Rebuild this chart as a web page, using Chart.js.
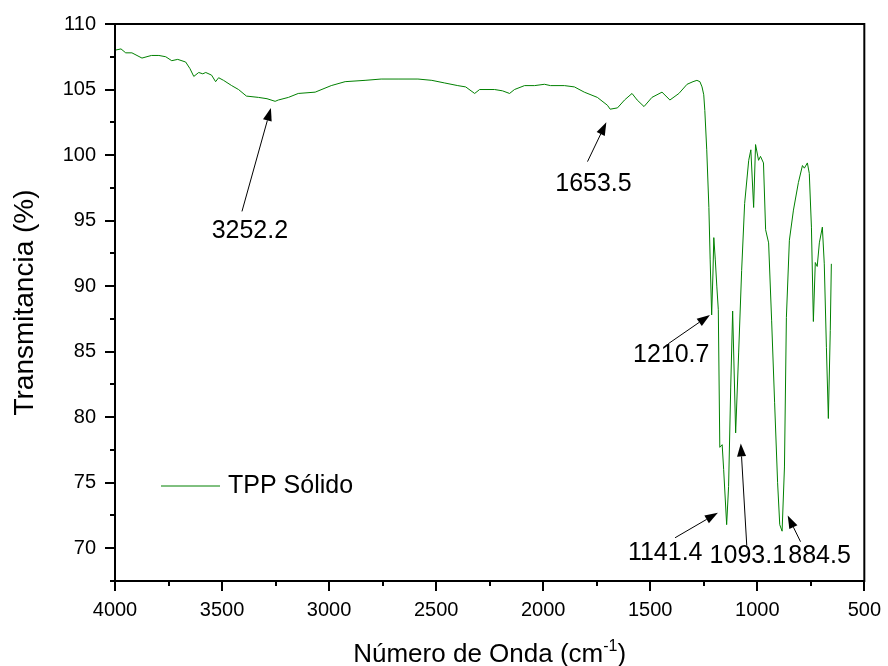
<!DOCTYPE html>
<html>
<head>
<meta charset="utf-8">
<script src="https://cdn.jsdelivr.net/npm/chart.js@4.4.1/dist/chart.umd.min.js"></script>
<style>
    body { margin: 0; background: #fff; }
</style>
</head>
<body>
<canvas id="chartFTIR" width="888" height="666"></canvas>
<script>
//* DATOS
const numeroOnda = [
    4000, 3972, 3950, 3921, 3874, 3830, 3795, 3763, 3735, 3707,
    3670, 3650, 3632, 3609, 3590, 3576, 3549, 3530, 3516, 3493,
    3455, 3423, 3386, 3330, 3290, 3252, 3237, 3190, 3144, 3065,
    2990, 2925, 2832, 2757, 2678, 2585, 2520, 2460, 2399, 2362,
    2320, 2297, 2227, 2190, 2157, 2134, 2087, 2040, 1994, 1966,
    1901, 1854, 1808, 1747, 1700, 1687, 1653, 1620, 1585, 1561,
    1529, 1492, 1445, 1408, 1366, 1328, 1300, 1282, 1268, 1258,
    1250, 1245, 1236, 1226, 1220, 1213, 1207, 1203, 1196, 1189,
    1182, 1175, 1164, 1157, 1143, 1134, 1124, 1115, 1101, 1087,
    1073, 1059, 1040, 1030, 1017, 1008, 994, 985, 971, 961,
    947, 933, 919, 905, 895, 884, 873, 864, 850, 831,
    808, 789, 780, 766, 757, 747, 738, 729, 720, 710,
    696, 687, 677, 668, 659, 654
];
const transmitancia = [
    108.0, 108.1, 107.8, 107.8, 107.4, 107.6, 107.6, 107.5, 107.2, 107.3,
    107.1, 106.6, 106.0, 106.3, 106.2, 106.3, 106.1, 105.6, 105.9, 105.7,
    105.3, 105.0, 104.5, 104.4, 104.3, 104.1, 104.2, 104.4, 104.7, 104.8,
    105.3, 105.6, 105.7, 105.8, 105.8, 105.8, 105.7, 105.5, 105.3, 105.2,
    104.7, 105.0, 105.0, 104.9, 104.7, 105.0, 105.3, 105.3, 105.4, 105.3,
    105.3, 105.2, 104.8, 104.4, 103.8, 103.5, 103.6, 104.2, 104.7, 104.2,
    103.7, 104.4, 104.8, 104.2, 104.7, 105.4, 105.6, 105.7, 105.6, 105.2,
    104.6, 103.4, 100.4, 96.0, 92.0, 87.8, 91.0, 93.7, 92.0, 90.0,
    88.2, 77.7, 77.9, 76.0, 71.8, 74.7, 82.3, 88.1, 78.8, 84.9,
    91.2, 96.3, 99.6, 100.4, 96.0, 100.8, 99.6, 99.9, 99.4, 94.3,
    93.3, 87.4, 81.1, 75.0, 71.8, 71.3, 76.2, 87.6, 93.5, 95.8,
    97.9, 99.2, 99.0, 99.4, 98.6, 94.5, 87.3, 91.8, 91.5, 93.3,
    94.5, 91.7, 85.3, 79.9, 86.6, 91.7
];
const etiquetasX = [4000, 3500, 3000, 2500, 2000, 1500, 1000, 500];
const etiquetasY = [70, 75, 80, 85, 90, 95, 100, 105, 110];

// picos marcados: texto, punta de flecha, cola, centro del texto (en unidades de datos)
const picos = [
    { texto: '3252.2', punta: [3272, 103.6], cola: [3407, 95.7], pos: [3370, 94.2] },
    { texto: '1653.5', punta: [1705, 102.5], cola: [1793, 99.5], pos: [1765, 97.8] },
    { texto: '1210.7', punta: [1221, 87.8], cola: [1416, 85.6], pos: [1402, 84.7] },
    { texto: '1141.4', punta: [1184, 72.7], cola: [1384, 70.8], pos: [1430, 69.6] },
    { texto: '1093.1', punta: [1077, 78.0], cola: [1049, 70.2], pos: [1044, 69.4] },
    { texto: '884.5', punta: [858, 72.5], cola: [798, 70.5], pos: [709, 69.4] }
];

const verde = '#008000';
const fuente = '"Liberation Sans", Arial, sans-serif';
Chart.defaults.color = '#000';
Chart.defaults.font.family = fuente;

const ctxFTIR = document.getElementById('chartFTIR');

let dataFTIR = {
    datasets: [{
        label: 'TPP Sólido',
        data: numeroOnda.map((x, i) => ({ x: x, y: transmitancia[i] })),
        borderColor: verde,
        borderWidth: 1,
        pointRadius: 0,
        tension: 0,
        fill: false
    }]
};

function flecha(ctx, x0, y0, x1, y1) {
    const ang = Math.atan2(y1 - y0, x1 - x0);
    const largo = 13, ancho = 4.5;
    const bx = x1 - largo * Math.cos(ang), by = y1 - largo * Math.sin(ang);
    ctx.beginPath();
    ctx.moveTo(x0, y0);
    ctx.lineTo(bx, by);
    ctx.stroke();
    ctx.beginPath();
    ctx.moveTo(x1, y1);
    ctx.lineTo(bx + ancho * Math.sin(ang), by - ancho * Math.cos(ang));
    ctx.lineTo(bx - ancho * Math.sin(ang), by + ancho * Math.cos(ang));
    ctx.closePath();
    ctx.fill();
}

const extras = {
    id: 'extras',
    afterDraw(chart) {
        const { ctx, chartArea: a, scales: { x, y } } = chart;
        ctx.save();
        ctx.strokeStyle = '#000';
        ctx.fillStyle = '#000';

        //* ticks menores
        ctx.lineWidth = 2;
        ctx.beginPath();
        x.ticks.forEach(t => {
            if (!etiquetasX.includes(t.value)) {
                const px = Math.round(x.getPixelForValue(t.value));
                ctx.moveTo(px, a.bottom);
                ctx.lineTo(px, a.bottom + 5);
            }
        });
        y.ticks.forEach(t => {
            if (!etiquetasY.includes(t.value)) {
                const py = Math.round(y.getPixelForValue(t.value));
                ctx.moveTo(a.left, py);
                ctx.lineTo(a.left - 5, py);
            }
        });
        ctx.stroke();

        //* marco
        ctx.strokeRect(a.left, a.top, a.right - a.left, a.bottom - a.top);

        //* flechas y etiquetas
        ctx.lineWidth = 1;
        ctx.font = '25px ' + fuente;
        ctx.textAlign = 'center';
        ctx.textBaseline = 'middle';
        picos.forEach(p => {
            flecha(ctx,
                x.getPixelForValue(p.cola[0]), y.getPixelForValue(p.cola[1]),
                x.getPixelForValue(p.punta[0]), y.getPixelForValue(p.punta[1]));
            ctx.fillText(p.texto, x.getPixelForValue(p.pos[0]), y.getPixelForValue(p.pos[1]));
        });

        //* leyenda
        const ly = a.top + 462;
        ctx.strokeStyle = verde;
        ctx.lineWidth = 1;
        ctx.beginPath();
        ctx.moveTo(a.left + 46, ly);
        ctx.lineTo(a.left + 105, ly);
        ctx.stroke();
        ctx.textAlign = 'left';
        ctx.fillText(chart.data.datasets[0].label, a.left + 113, ly);

        //* titulo eje x con superindice
        const t1 = 'Número de Onda (cm', sup = '-1', t2 = ')';
        ctx.font = '26px ' + fuente;
        const w1 = ctx.measureText(t1).width, w2 = ctx.measureText(t2).width;
        ctx.font = '16px ' + fuente;
        const ws = ctx.measureText(sup).width;
        let cx = (a.left + a.right) / 2 - (w1 + ws + w2) / 2;
        const base = 662;
        ctx.textBaseline = 'alphabetic';
        ctx.font = '26px ' + fuente;
        ctx.fillText(t1, cx, base);
        ctx.font = '16px ' + fuente;
        ctx.fillText(sup, cx + w1, base - 11);
        ctx.font = '26px ' + fuente;
        ctx.fillText(t2, cx + w1 + ws, base);
        ctx.restore();
    }
};

let Options = {
    responsive: false,
    animation: false,
    devicePixelRatio: 1,
    layout: { padding: { left: 0, top: 24, right: 21, bottom: 0 } },
    plugins: {
        legend: { display: false },
        tooltip: { enabled: false }
    },
    scales: {
        x: {
            type: 'linear',
            reverse: true,
            min: 500,
            max: 4000,
            afterFit: s => { s.height = 85; },
            border: { color: '#000', width: 2 },
            grid: {
                drawOnChartArea: false,
                tickLength: 10,
                lineWidth: 2,
                tickColor: c => etiquetasX.includes(c.tick.value) ? '#000' : 'rgba(0,0,0,0)'
            },
            ticks: {
                stepSize: 250,
                includeBounds: false,
                autoSkip: false,
                maxRotation: 0,
                padding: 7,
                font: { size: 20 },
                callback: v => etiquetasX.includes(v) ? v : ''
            }
        },
        y: {
            min: 67.5,
            max: 110,
            afterFit: s => { s.width = 115; },
            border: { color: '#000', width: 2 },
            grid: {
                drawOnChartArea: false,
                tickLength: 10,
                lineWidth: 2,
                tickColor: c => etiquetasY.includes(c.tick.value) ? '#000' : 'rgba(0,0,0,0)'
            },
            ticks: {
                stepSize: 2.5,
                includeBounds: false,
                autoSkip: false,
                padding: 9,
                font: { size: 20 },
                callback: v => etiquetasY.includes(v) ? v : ''
            },
            title: {
                display: true,
                text: 'Transmitancia (%)',
                font: { size: 28 },
                padding: { top: 8, bottom: 0 }
            }
        }
    }
};

new Chart(ctxFTIR, {
    type: 'line',
    data: dataFTIR,
    options: Options,
    plugins: [extras]
});
</script>
</body>
</html>
